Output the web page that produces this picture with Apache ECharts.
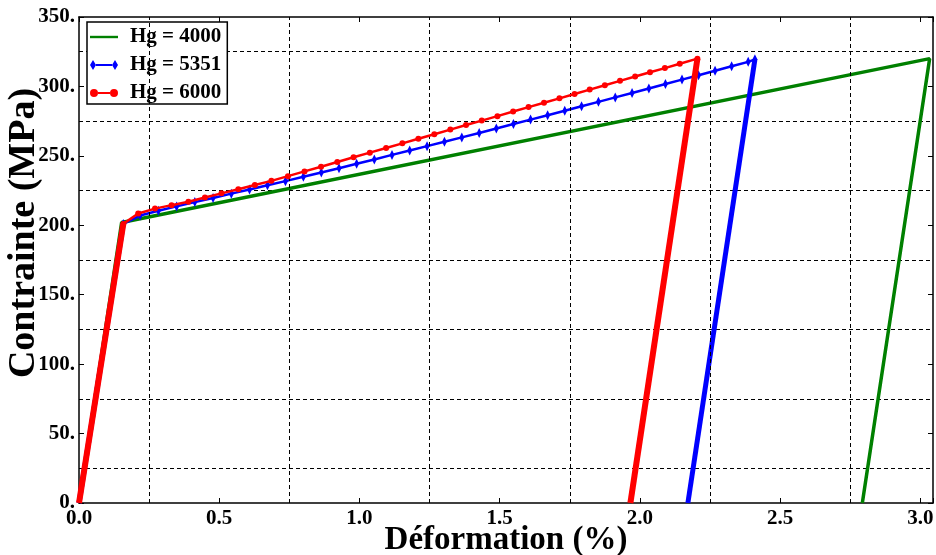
<!DOCTYPE html>
<html>
<head>
<meta charset="utf-8">
<script src="https://cdn.jsdelivr.net/npm/echarts@6/dist/echarts.min.js"></script>
<style>
html,body{margin:0;padding:0;background:#fff;}
#chart{width:936px;height:555px;}
</style>
</head>
<body>
<div id="chart"></div>
<script>
// ---- data (strain %, stress MPa) ----
const seriesNames = ['Hg = 4000', 'Hg = 5351', 'Hg = 6000'];
const green = [[0, 0], [0.152, 202], [3.033, 320], [2.793, 0]];
const blueLoad = [[0, 0], [0.158, 201]];
const bluePlastic = [[0.158, 201], [0.218, 207.0], [0.283, 210.5], [0.348, 213.6], [0.413, 216.7], [0.478, 219.7],
  [0.543, 222.8], [0.608, 225.8], [0.672, 228.8], [0.736, 231.8], [0.800, 234.9], [0.864, 238.0], [0.927, 241.1],
  [0.990, 244.3], [1.053, 247.4], [1.116, 250.7], [1.179, 253.8], [1.241, 257.0], [1.303, 260.2], [1.365, 263.3],
  [1.427, 266.5], [1.488, 269.7], [1.549, 272.9], [1.610, 276.1], [1.671, 279.3], [1.732, 282.5], [1.792, 285.7],
  [1.852, 288.9], [1.912, 292.1], [1.972, 295.3], [2.032, 298.5], [2.091, 301.7], [2.150, 304.9], [2.209, 308.1],
  [2.268, 311.3], [2.327, 314.5], [2.386, 317.7], [2.410, 319.5]];
const blueUnload = [[2.410, 319.5], [2.171, 0]];
const redLoad = [[0, 0], [0.158, 201]];
const redPlastic = [[0.158, 201], [0.211, 208.5], [0.271, 212.0], [0.330, 214.5], [0.390, 217.0], [0.449, 220.0],
  [0.508, 223.0], [0.568, 226.0], [0.627, 229.0], [0.686, 232.0], [0.745, 235.4], [0.804, 238.8], [0.863, 242.2],
  [0.921, 245.6], [0.979, 249.0], [1.037, 252.3], [1.095, 255.7], [1.153, 259.0], [1.210, 262.3], [1.267, 265.6],
  [1.324, 268.9], [1.380, 272.2], [1.436, 275.4], [1.492, 278.6], [1.548, 281.9], [1.603, 285.1], [1.658, 288.3],
  [1.713, 291.4], [1.767, 294.6], [1.821, 297.7], [1.875, 300.8], [1.929, 304.0], [1.983, 307.1], [2.036, 310.2],
  [2.089, 313.2], [2.142, 316.3], [2.205, 320.0]];
const redUnload = [[2.205, 320.0], [1.966, 0]];
const xGridLines = [0.25, 0.75, 1.25, 1.75, 2.25, 2.75];
const xRange = [0, 3.045];
const yRange = [0, 350];

// ---- styling ----
const FONT = '"Liberation Serif", "Times New Roman", serif';
const GREEN = '#008000', BLUE = '#0000ff', RED = '#ff0000';
const dash = [4, 3];

const chart = echarts.init(document.getElementById('chart'), null, {renderer: 'canvas'});

const spine = {show: true, onZero: false, lineStyle: {color: '#000', width: 1.5}};
const inTick = {show: true, inside: true, length: 5, lineStyle: {color: '#000', width: 1}};
const tickFont = {color: '#000', fontFamily: FONT, fontWeight: 'bold', fontSize: 21};

function xLabel(v) {
  return Math.abs(v * 2 - Math.round(v * 2)) < 1e-9 ? v.toFixed(1) : '';
}

const option = {
  animation: false,
  backgroundColor: '#fff',
  grid: {left: 79, right: 3, top: 17, bottom: 52, containLabel: false, outerBoundsMode: 'none'},
  legend: {
    orient: 'vertical',
    left: 87, top: 22,
    backgroundColor: '#fff',
    borderColor: '#000', borderWidth: 1.5, borderRadius: 0,
    padding: [4, 6, 0, 3],
    itemWidth: 28, itemHeight: 10, itemGap: 6,
    textStyle: {color: '#000', fontFamily: FONT, fontWeight: 'bold', fontSize: 21, lineHeight: 22, padding: [0, 0, 0, 7]},
    data: [
      {name: seriesNames[0], icon: 'path://M0,0 M28,10 M0,3.8H28V6.2H0Z'},
      {name: seriesNames[1], icon: 'path://M0,5L3,0L6,5L3,10Z M22,5L25,0L28,5L25,10Z M6,4.1H22V5.9H6Z'},
      {name: seriesNames[2], icon: 'path://M0,5A4,4,0,1,0,8,5A4,4,0,1,0,0,5Z M20,5A4,4,0,1,0,28,5A4,4,0,1,0,20,5Z M8,4.1H20V5.9H8Z'}
    ]
  },
  xAxis: [
    {
      type: 'value', position: 'bottom', min: xRange[0], max: xRange[1], interval: 0.5,
      axisLine: spine, axisTick: inTick,
      axisLabel: Object.assign({margin: 5, formatter: xLabel}, tickFont),
      splitLine: {show: false},
      name: 'Déformation (%)', nameLocation: 'middle', nameGap: 21, nameMoveOverlap: false,
      nameTextStyle: {color: '#000', fontFamily: FONT, fontWeight: 'bold', fontSize: 33, verticalAlign: 'top'}
    },
    {
      type: 'value', position: 'top', min: xRange[0], max: xRange[1], interval: 0.5,
      axisLine: spine, axisTick: inTick, axisLabel: {show: false}, splitLine: {show: false}
    }
  ],
  yAxis: [
    {
      type: 'value', position: 'left', min: yRange[0], max: yRange[1], interval: 50,
      axisLine: spine, axisTick: inTick,
      axisLabel: Object.assign({margin: 4, formatter: v => v + '.'}, tickFont),
      splitLine: {show: false},
      minorTick: {show: false, splitNumber: 2},
      minorSplitLine: {show: true, lineStyle: {color: '#000', width: 1, type: dash}},
      name: 'Contrainte (MPa)', nameLocation: 'middle', nameGap: 36, nameMoveOverlap: false,
      nameTextStyle: {color: '#000', fontFamily: FONT, fontWeight: 'bold', fontSize: 38, padding: [0, 0, 0, 54]}
    },
    {
      type: 'value', position: 'right', min: yRange[0], max: yRange[1], interval: 50,
      axisLine: spine, axisTick: inTick, axisLabel: {show: false}, splitLine: {show: false}
    }
  ],
  series: [
    {
      name: '__grid', type: 'line', data: [], silent: true, z: 1,
      markLine: {
        silent: true, symbol: 'none', animation: false,
        label: {show: false},
        lineStyle: {color: '#000', width: 1, type: dash},
        data: xGridLines.map(x => ({xAxis: x}))
      }
    },
    {
      name: seriesNames[0], type: 'line', data: green, showSymbol: false, symbol: 'none',
      lineStyle: {color: GREEN, width: 3.5}, itemStyle: {color: GREEN}, z: 3
    },
    {
      name: seriesNames[1], type: 'line', data: blueLoad, symbol: 'none',
      lineStyle: {color: BLUE, width: 5}, itemStyle: {color: BLUE}, z: 4
    },
    {
      name: seriesNames[1], type: 'line', data: bluePlastic, symbol: 'diamond', symbolSize: [5, 10],
      lineStyle: {color: BLUE, width: 2.5}, itemStyle: {color: BLUE}, z: 4
    },
    {
      name: seriesNames[1], type: 'line', data: blueUnload, symbol: 'none',
      lineStyle: {color: BLUE, width: 5}, itemStyle: {color: BLUE}, z: 4
    },
    {
      name: seriesNames[2], type: 'line', data: redLoad, symbol: 'none',
      lineStyle: {color: RED, width: 6}, itemStyle: {color: RED}, z: 5
    },
    {
      name: seriesNames[2], type: 'line', data: redPlastic, symbol: 'circle', symbolSize: 6,
      lineStyle: {color: RED, width: 2.5}, itemStyle: {color: RED}, z: 5
    },
    {
      name: seriesNames[2], type: 'line', data: redUnload, symbol: 'none',
      lineStyle: {color: RED, width: 6}, itemStyle: {color: RED}, z: 5
    }
  ]
};
chart.setOption(option);
</script>
</body>
</html>
